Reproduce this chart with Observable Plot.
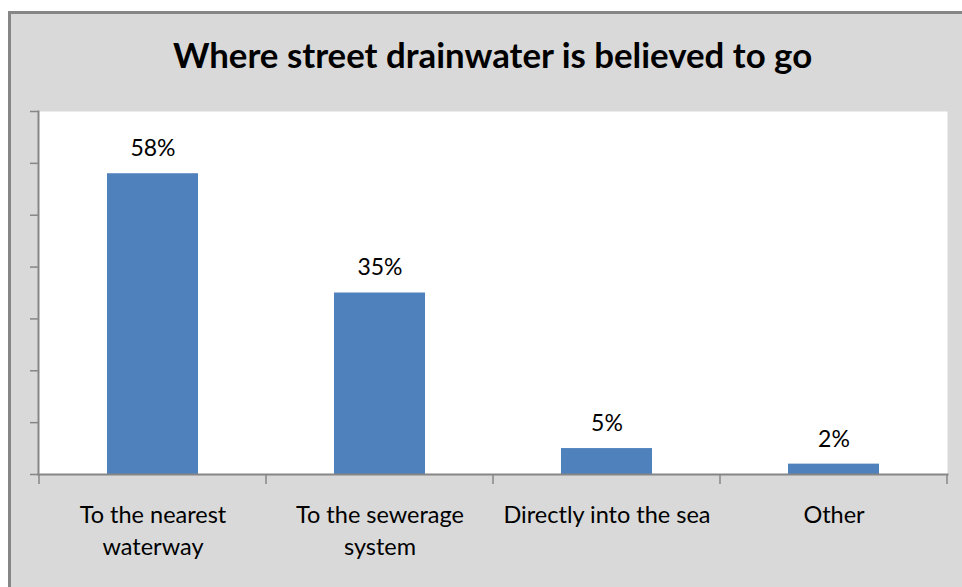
<!DOCTYPE html>
<html>
<head>
<meta charset="utf-8">
<script src="https://cdn.jsdelivr.net/npm/d3@7"></script>
<script src="https://cdn.jsdelivr.net/npm/@observablehq/plot@0.6"></script>
<style>
  html, body { margin: 0; padding: 0; background: #ffffff; width: 962px; height: 587px; overflow: hidden; }
  #wrap { position: relative; width: 962px; height: 587px; overflow: hidden; }
  #frame { position: absolute; left: 8px; top: 11px; width: 980px; height: 600px;
           background: #d9d9d9; border-top: 3px solid #868686; border-left: 3px solid #868686; }
  #title { position: absolute; left: 38px; width: 909px; top: 38px; text-align: center;
           font-family: Lato, "Open Sans", sans-serif; font-weight: bold; font-size: 34.8px; line-height: 1;
           color: #000; white-space: nowrap; z-index: 2; }
  #chart { position: absolute; left: 0; top: 0; z-index: 1; }
</style>
</head>
<body>
<div id="wrap">
  <div id="frame"></div>
  <div id="title">Where street drainwater is believed to go</div>
  <div id="chart"></div>
</div>
<script>
const categories = ["To the nearest waterway", "To the sewerage system", "Directly into the sea", "Other"];
const tickLabels = ["To the nearest\nwaterway", "To the sewerage\nsystem", "Directly into the sea", "Other"];
const values = [58, 35, 5, 2];
const valueLabels = ["58%", "35%", "5%", "2%"];
const yTicks = [0, 10, 20, 30, 40, 50, 60, 70];

const data = categories.map((c, i) => ({category: c, value: values[i], label: valueLabels[i]}));
const axisGray = "#868686";

// Tick marks at the band boundaries, derived from the x band scale
function bandEdgeTicks(index, scales, values, dimensions) {
  const sx = scales.x;
  const pos = categories.map(c => sx(c));
  const step = pos.length > 1 ? pos[1] - pos[0] : 0;
  const bw = typeof sx.bandwidth === "function" ? sx.bandwidth() : (scales.scales && scales.scales.x && scales.scales.x.bandwidth) || 0;
  const centers = pos.map(p => p + bw / 2);
  const edges = [centers[0] - step / 2, ...centers.map(c => c + step / 2)];
  const y0 = dimensions.height - dimensions.marginBottom;
  const g = d3.create("svg:g").attr("stroke", axisGray).attr("stroke-width", 1.5);
  g.selectAll("line").data(edges).join("line")
    .attr("x1", d => d).attr("x2", d => d)
    .attr("y1", y0).attr("y2", y0 + 10);
  return g.node();
}

const plot = Plot.plot({
  width: 962,
  height: 587,
  marginLeft: 38,
  marginRight: 15,
  marginTop: 111,
  marginBottom: 113,
  style: {background: "transparent", fontFamily: "Lato, 'Open Sans', sans-serif", overflow: "visible"},
  x: {domain: categories, paddingInner: 0.6, paddingOuter: 0.3, label: null},
  y: {domain: [0, 70], label: null},
  marks: [
    Plot.frame({fill: "white", stroke: null}),
    Plot.barY(data, {x: "category", y: "value", fill: "#4f81bd"}),
    Plot.text(data, {x: "category", y: "value", text: "label", dy: -25, fontSize: 23, fill: "#000"}),
    Plot.axisY({ticks: yTicks, tickSize: 8, tickFormat: () => "", stroke: axisGray, strokeWidth: 1.5, label: null}),
    Plot.axisX({tickSize: 0, tickPadding: 26, lineAnchor: "top", lineHeight: 1.36, fontSize: 23.5, fill: "#000",
                tickFormat: d => tickLabels[categories.indexOf(d)], label: null}),
    Plot.frame({anchor: "left", stroke: axisGray, strokeWidth: 2}),
    Plot.frame({anchor: "bottom", stroke: axisGray, strokeWidth: 2}),
    bandEdgeTicks
  ]
});
document.getElementById("chart").appendChild(plot);
</script>
</body>
</html>
